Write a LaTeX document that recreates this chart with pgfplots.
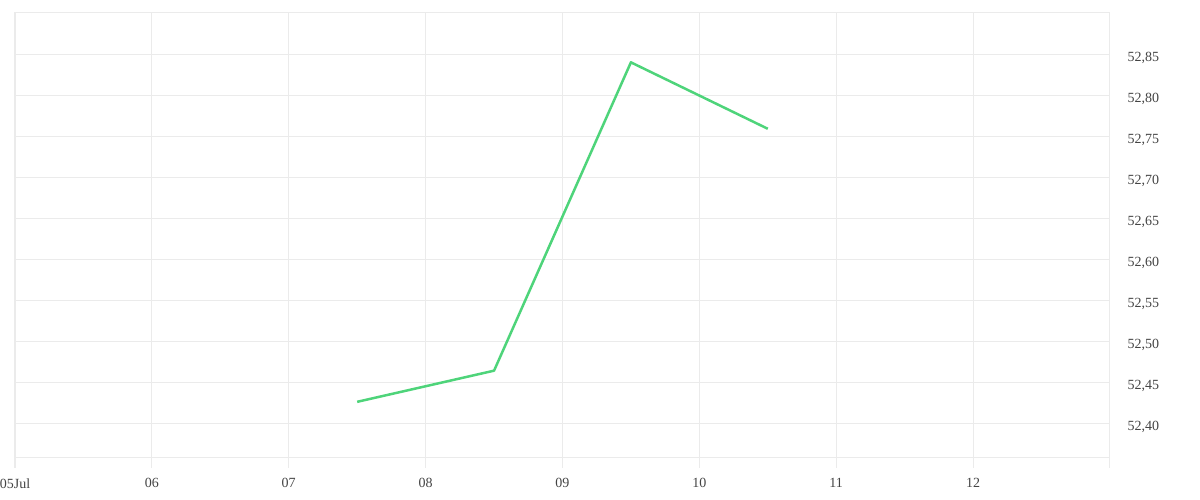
\documentclass[border=0pt]{standalone}
\usepackage{pgfplots}
\pgfplotsset{compat=1.18}
\usepackage{fontspec}
\setmainfont{Liberation Serif}
\definecolor{gridc}{HTML}{EBEBEB}
\definecolor{linec}{HTML}{4ED47A}
\definecolor{labc}{HTML}{444444}
\begin{document}
\begin{tikzpicture}
\begin{axis}[
  scale only axis,
  width=1095pt, height=445pt,
  xmin=5, xmax=13,
  ymin=52.3585, ymax=52.9012,
  xtick={5,6,7,8,9,10,11,12,13},
  xticklabels={05Jul,06,07,08,09,10,11,12,},
  ytick={52.40,52.45,52.50,52.55,52.60,52.65,52.70,52.75,52.80,52.85},
  xtick pos=bottom,
  yticklabel pos=right,
  grid=major,
  grid style={gridc, line width=1pt},
  axis line style={gridc, line width=1pt},
  tick align=outside,
  xtick style={gridc, line width=1pt},
  major tick length=10pt,
  ytick style={draw=none},
  tick label style={font=\fontsize{14}{16}\selectfont, text=labc},
  xticklabel style={yshift=-7pt},
  yticklabel style={anchor=west, xshift=4pt, yshift=-3pt},
  /pgf/number format/assume math mode=true,
  y tick label style={/pgf/number format/.cd, fixed, fixed zerofill, precision=2, use comma},
]
\addplot[linec, line width=2.5pt, line join=round] coordinates {
  (7.5,52.427) (8.5,52.465) (9.5,52.841) (10.5,52.760)
};
\end{axis}
\pgfresetboundingbox
\path (-15pt,-42pt) rectangle (1185pt,458pt);
\end{tikzpicture}
\end{document}
